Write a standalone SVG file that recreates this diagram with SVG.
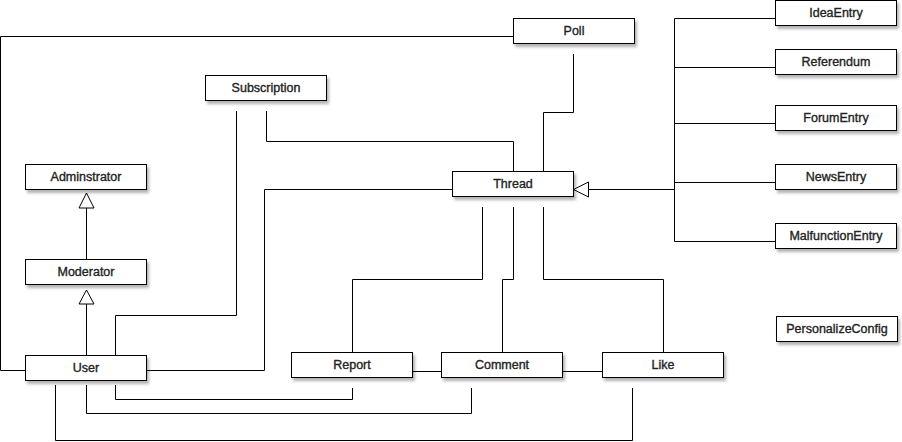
<svg xmlns="http://www.w3.org/2000/svg" width="902" height="442" viewBox="0 0 902 442">
<defs>
<filter id="sh" x="-10%" y="-20%" width="130%" height="160%">
<feDropShadow dx="2" dy="3" stdDeviation="1.5" flood-color="#000" flood-opacity="0.3"/>
</filter>
<style>
.box{fill:#fff;stroke:#000;stroke-width:1;filter:url(#sh)}
.lbl{font-family:"Liberation Sans",Arial,sans-serif;font-size:12.5px;fill:#222;stroke:#222;stroke-width:0.35;text-anchor:middle}
.ln{fill:none;stroke:#000;stroke-width:1}
.tri{fill:#fff;stroke:#000;stroke-width:1}
</style>
</defs>
<rect width="902" height="442" fill="#fff"/>
<g id="connectors">
<path class="ln" d="M513.5,36.5 H0.5 V370.5 H25.5"/>
<path class="ln" d="M573.5,54 V112.5 H543.5 V171.5"/>
<path class="ln" d="M266.5,111 V141.5 H513.5 V171.5"/>
<path class="ln" d="M236.5,111 V315.5 H115.5 V355.5"/>
<path class="ln" d="M452.5,189.5 H264.5 V370.5 H146.5"/>
<path class="ln" d="M482.5,207 V279.5 H352.5 V352.5"/>
<path class="ln" d="M513.5,207 V279.5 H502.5 V352.5"/>
<path class="ln" d="M543.5,207 V279.5 H663.5 V352.5"/>
<path class="ln" d="M412.5,371.5 H441.5"/>
<path class="ln" d="M562.5,371.5 H602.5"/>
<path class="ln" d="M115.5,385 V399.5 H352.5 V388"/>
<path class="ln" d="M86.5,385 V413.5 H471.5 V388"/>
<path class="ln" d="M55.5,385 V440.5 H632.5 V388"/>
<path class="ln" d="M674.5,18.5 V241.5 M674.5,18.5 H775.5 M674.5,67.5 H775.5 M674.5,123.5 H775.5 M674.5,182.5 H775.5 M674.5,241.5 H775.5"/>
<path class="ln" d="M674.5,189.5 H588.5"/>
<polygon class="tri" points="573.5,189.5 588.5,182 588.5,197"/>
<path class="ln" d="M86.5,259.5 V208"/>
<polygon class="tri" points="86.5,193 79,208 94,208"/>
<path class="ln" d="M86.5,355.5 V304"/>
<polygon class="tri" points="86.5,290 79,304 94,304"/>
</g>
<g id="Poll"><rect class="box" x="513.5" y="18.5" width="121" height="25"/><text class="lbl" x="574" y="35">Poll</text></g>
<g id="Subscription"><rect class="box" x="205.5" y="75.5" width="121" height="25"/><text class="lbl" x="266" y="92">Subscription</text></g>
<g id="Adminstrator"><rect class="box" x="25.5" y="164.5" width="121" height="25"/><text class="lbl" x="86" y="181">Adminstrator</text></g>
<g id="Moderator"><rect class="box" x="25.5" y="259.5" width="121" height="25"/><text class="lbl" x="86" y="276">Moderator</text></g>
<g id="User"><rect class="box" x="25.5" y="355.5" width="121" height="25"/><text class="lbl" x="86" y="372">User</text></g>
<g id="Thread"><rect class="box" x="452.5" y="171.5" width="121" height="25"/><text class="lbl" x="513" y="188">Thread</text></g>
<g id="Report"><rect class="box" x="291.5" y="352.5" width="121" height="25"/><text class="lbl" x="352" y="369">Report</text></g>
<g id="Comment"><rect class="box" x="441.5" y="352.5" width="121" height="25"/><text class="lbl" x="502" y="369">Comment</text></g>
<g id="Like"><rect class="box" x="602.5" y="352.5" width="121" height="25"/><text class="lbl" x="663" y="369">Like</text></g>
<g id="IdeaEntry"><rect class="box" x="775.5" y="0.5" width="121" height="25"/><text class="lbl" x="836" y="17">IdeaEntry</text></g>
<g id="Referendum"><rect class="box" x="775.5" y="49.5" width="121" height="25"/><text class="lbl" x="836" y="66">Referendum</text></g>
<g id="ForumEntry"><rect class="box" x="775.5" y="105.5" width="121" height="25"/><text class="lbl" x="836" y="122">ForumEntry</text></g>
<g id="NewsEntry"><rect class="box" x="775.5" y="164.5" width="121" height="25"/><text class="lbl" x="836" y="181">NewsEntry</text></g>
<g id="MalfunctionEntry"><rect class="box" x="775.5" y="223.5" width="121" height="25"/><text class="lbl" x="836" y="240">MalfunctionEntry</text></g>
<g id="PersonalizeConfig"><rect class="box" x="776.5" y="316.5" width="121" height="25"/><text class="lbl" x="837" y="333">PersonalizeConfig</text></g>
</svg>
